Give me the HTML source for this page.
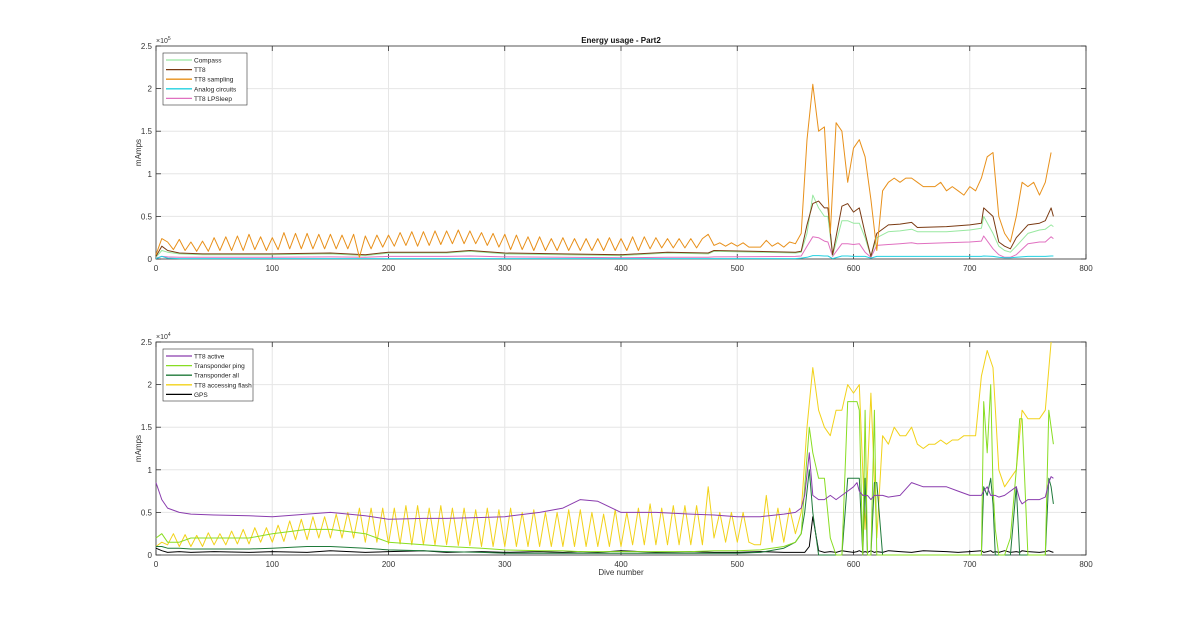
<!DOCTYPE html>
<html><head><meta charset="utf-8"><style>
body{margin:0;background:#fff;}
svg{display:block;font-family:"Liberation Sans",sans-serif;}
</style></head><body>
<svg id="chart" width="1200" height="622"></svg>
<script>
// ---- data ----
const sampStart = 0, sampStep = 5;
const tt8Sampling = [0.5,2.4,2.0,1.1,2.3,1.0,2.0,0.9,2.1,0.9,2.5,
1.0,2.6,1.0,2.7,1.0,2.9,1.1,2.6,1.0,2.5,
1.1,3.1,1.2,3.0,1.2,3.0,1.2,2.9,1.2,2.9,
1.2,2.8,1.2,2.9,0.2,2.7,1.2,2.8,1.4,2.8,
1.5,3.1,1.6,3.2,1.5,3.2,1.6,3.3,1.7,3.3,
1.8,3.4,1.8,3.3,1.8,3.1,1.6,3.0,1.4,2.9,
1.1,2.8,1.1,2.6,1.0,2.6,1.0,2.4,1.0,2.5,
1.0,2.4,1.0,2.4,1.0,2.4,1.0,2.5,1.0,2.4,
1.0,2.6,1.0,2.6,1.2,2.5,1.3,2.4,1.3,2.4,
1.3,2.4,1.3,2.4,2.9,1.6,1.9,1.5,1.9,1.5,
1.9,1.4,1.4,1.4,2.2,1.5,1.9,1.4,2.0,1.8,
3,14,20.5,15,15.5,3,16,15,9,13,
14,12,7,1,8,9,9.5,9,9.5,9.5,
9,8.5,8.5,8.5,9,8,8.5,8,7.5,8.5,
8,9.5,12,12.5,5,3,2,5,9,8.5,
9,7.5,9,12.5];
const topDives = [0,5,10,20,40,60,100,150,180,200,250,270,300,350,400,440,475,480,550,555,560,565,570,575,578,582,590,595,600,605,610,615,620,630,640,650,655,680,700,710,712,720,725,730,735,740,750,760,765,770,772];
const tt8 = [0.3,1.5,1.0,0.7,0.6,0.6,0.6,0.7,0.5,0.8,0.8,1.0,0.7,0.6,0.5,0.8,0.7,1.0,0.8,0.9,4,6.5,6.8,6,6,0.5,6.2,6.5,5.5,6,3,0.3,3,4,4.1,4.3,3.7,3.8,4,4.2,6,5,2,1.5,1.2,2.5,4,4.2,4.5,6,5];
const compass = [0.2,1.0,0.8,0.6,0.5,0.5,0.5,0.6,0.4,0.7,0.7,0.9,0.6,0.5,0.4,0.7,0.6,0.9,0.7,0.8,3,7.5,6,5,5,0.4,4.5,4.5,4.2,4.2,2.5,0.3,2.5,3.2,3.3,3.5,3.2,3.2,3.4,3.6,5,3,1.5,1,0.8,1.5,3,3.4,3.5,4,3.8];
const lpSleep = [0.1,0.3,0.25,0.2,0.2,0.2,0.2,0.25,0.2,0.3,0.3,0.35,0.25,0.2,0.15,0.2,0.2,0.25,0.3,0.35,1.5,2.6,2.5,2.1,2,0.3,1.8,1.8,1.7,1.8,0.8,0.2,1.6,1.7,1.8,1.9,1.8,1.9,2,2.1,2.7,1.2,0.5,0.2,0.2,0.5,1.8,2,2,2.6,2.4];
const analog = [0.05,0.3,0.1,0.05,0.05,0.05,0.05,0.05,0.05,0.05,0.05,0.05,0.05,0.05,0.05,0.05,0.05,0.05,0.05,0.1,0.2,0.4,0.4,0.35,0.35,0.05,0.35,0.35,0.3,0.3,0.3,0.1,0.3,0.3,0.3,0.3,0.3,0.3,0.3,0.3,0.35,0.3,0.2,0.15,0.15,0.2,0.3,0.3,0.3,0.35,0.35];

const flash = [1.0,1.5,1.2,2.5,1.0,2.4,1.0,2.3,1.0,2.6,1.2,
2.5,1.2,2.8,1.3,3.0,1.3,3.2,1.5,3.2,1.5,
3.5,1.6,4.0,1.8,4.2,1.8,4.5,2.0,4.5,2.0,
4.8,2.0,5.0,2.0,5.5,1.5,5.5,1.5,5.5,1.3,
5.5,1.3,5.8,1.2,5.8,1.2,5.5,1.2,5.8,1.2,
5.5,1.1,5.5,1.1,5.3,1.0,5.5,1.0,5.3,1.0,
5.5,1.0,5.0,1.0,5.3,1.0,5.0,1.0,5.0,1.0,
5.3,1.0,5.3,1.0,5.0,1.0,4.8,1.0,5.3,1.0,
5.0,1.2,5.5,1.2,6.0,1.2,5.5,1.2,5.8,1.2,
5.8,1.2,5.8,1.2,8.0,2.0,5.0,1.5,5.0,1.5,
5.0,1.5,1.2,1.2,7.0,1.5,5.5,1.5,5.5,2.5,
5,15,22,17,15,14,17,17,20,19,
20,3,19,2,14,13,15,14,14,15,
13,12.5,13,13,13.5,13,13.5,13.5,14,14,
14,21,24,22,10,8,9,10,17,16,
16,16,17,25];
const botDives = [0,5,10,20,30,50,80,100,130,150,180,200,230,250,280,300,330,350,365,380,400,430,460,480,500,520,540,550,555,558,562,565,570,575,580,585,590,595,600,603,605,608,610,612,615,618,620,625,630,640,650,660,680,690,700,710,712,715,718,720,722,725,730,735,740,743,745,750,760,765,768,770,772];
const tt8Active = [8.5,6.5,5.5,5,4.8,4.7,4.6,4.5,4.8,5,4.6,4.2,4.3,4.3,4.4,4.5,5,5.5,6.5,6.3,5,5,4.8,4.7,4.5,4.5,4.8,5,5.5,7,12,7,6.5,6.5,7,6.5,7,7.5,8,8.5,7.5,7,7,7,6.5,7,7,7,6.8,7,8.5,8,8,7.5,7,7,7.5,8,7,7,7,6.8,7,7.5,8,6.5,6,6.5,6.5,6.8,8.5,9.2,9];
const ping = [2,2.5,1.5,1.5,2,2,2,2.5,3,3,2.5,1.5,1.2,1.0,0.8,0.6,0.5,0.5,0.4,0.4,0.4,0.4,0.4,0.5,0.5,0.6,1,1.5,2.5,8,15,12,9,9,2,0,0,18,18,18,17,0,17,0,0,17,0,0,0,0,0,0,0,0,0,0,18,12,20,8,3,0,0,2,10,16,16,0,0,0,17,15,13];
const transAll = [1,1,0.8,0.8,0.7,0.7,0.7,0.8,1,1,0.8,0.6,0.5,0.4,0.3,0.2,0.2,0.2,0.2,0.2,0.2,0.2,0.2,0.2,0.2,0.3,0.8,1.5,2.5,5,10,5,0,0,0,0,0,9,9,9,9,0,9,0,0,8.5,8.5,0,0,0,0,0,0,0,0,0,8,7,9,6,0,0,0,0,8,0,0,0,0,0,9,8,6];
const gps = [0.8,0.5,0.3,0.4,0.3,0.4,0.3,0.4,0.3,0.5,0.3,0.4,0.5,0.3,0.4,0.3,0.4,0.3,0.4,0.3,0.5,0.3,0.4,0.3,0.3,0.4,0.3,0.3,0.3,0.3,1,4.5,0.5,0.3,0.4,0.3,0.5,0.4,0.3,0.4,0.5,0.3,0.4,0.3,0.5,0.3,0.4,0.3,0.5,0.4,0.3,0.5,0.4,0.3,0.4,0.5,0.3,0.4,0.5,0.3,0.4,0.3,0.5,0.3,0.4,0.3,0.5,0.4,0.3,0.4,0.5,0.4,0.3];
const xTicks = [0,100,200,300,400,500,600,700,800];
const yTickLabels = ["0","0.5","1","1.5","2","2.5"];
const yTickVals = [0,5,10,15,20,25];

// ---- drawing ----
const NS="http://www.w3.org/2000/svg";
const svg=document.getElementById('chart');
function mk(tag,attrs,parent){const e=document.createElementNS(NS,tag);for(const k in attrs)e.setAttribute(k,attrs[k]);(parent||svg).appendChild(e);return e;}
const L=156,R=1086;
const xs=v=>L+(v/800)*(R-L);
function makeAxis(axTop,axBottom,name,expo){
  const g=mk('g',{});
  
  
  const ys=v=>axBottom-(v/25)*(axBottom-axTop);
  xTicks.forEach(t=>{const l=mk('line',{x1:xs(t),x2:xs(t),y1:axTop,y2:axBottom,stroke:'#e6e6e6','stroke-width':1},g);
    });
  yTickVals.forEach(t=>{const l=mk('line',{x1:L,x2:R,y1:ys(t),y2:ys(t),stroke:'#e6e6e6','stroke-width':1},g);
    });
  mk('rect',{x:L,y:axTop,width:R-L,height:axBottom-axTop,fill:'none',stroke:'#333','stroke-width':0.8},g);
  xTicks.forEach(t=>{
    mk('line',{x1:xs(t),x2:xs(t),y1:axBottom,y2:axBottom-5,stroke:'#333','stroke-width':0.8},g);
    mk('line',{x1:xs(t),x2:xs(t),y1:axTop,y2:axTop+5,stroke:'#333','stroke-width':0.8},g);
    const tx=mk('text',{x:xs(t),y:axBottom+12,'font-size':8,'text-anchor':'middle',fill:'#333'},g);tx.textContent=t;
    
  });
  yTickVals.forEach((t,i)=>{
    mk('line',{x1:L,x2:L+5,y1:ys(t),y2:ys(t),stroke:'#333','stroke-width':0.8},g);
    mk('line',{x1:R,x2:R-5,y1:ys(t),y2:ys(t),stroke:'#333','stroke-width':0.8},g);
    const tx=mk('text',{x:L-4,y:ys(t)+3,'font-size':8,'text-anchor':'end',fill:'#333'},g);tx.textContent=yTickLabels[i];
    
  });
  const ex=mk('text',{x:L,y:axTop-3,'font-size':7,fill:'#333'},g);
  ex.textContent='×10';
  const sup=mk('tspan',{dy:-3,'font-size':5},ex);sup.textContent=expo;
  
  const yl=mk('text',{x:0,y:0,'font-size':8,'text-anchor':'middle',fill:'#333',transform:'translate(141,'+((axTop+axBottom)/2)+') rotate(-90)'},g);
  yl.textContent='mAmps';
  return {g:g,ys:ys};
}
function drawLine(ax,xsArr,vals,color,name,w){
  const pts=vals.map((v,i)=>xs(xsArr[i]).toFixed(1)+','+ax.ys(v).toFixed(1)).join(' ');
  const p=mk('polyline',{points:pts,fill:'none',stroke:color,'stroke-width':w||1,'stroke-linejoin':'round'},ax.g);
  
  
}
const stepX=vals=>vals.map((v,i)=>sampStart+i*sampStep);
function legend(ax,x,y,w,entries){
  const lg=mk('g',{},ax.g);
  
  
  mk('rect',{x:x,y:y,width:w,height:entries.length*9.6+4,fill:'#fff',stroke:'#333','stroke-width':0.6},lg);
  entries.forEach((e,i)=>{
    const ey=y+7+i*9.6;
    const en=mk('g',{},lg);
    
    
    mk('line',{x1:x+3,x2:x+29,y1:ey,y2:ey,stroke:e[1],'stroke-width':1.3},en);
    const t=mk('text',{x:x+31,y:ey+2.5,'font-size':6.5,fill:'#222'},en);t.textContent=e[0];
  });
}
const topAx=makeAxis(46,259,'top-axes',5);
drawLine(topAx,topDives,lpSleep,'#e070c0','line-tt8-lpsleep');
drawLine(topAx,topDives,analog,'#22d0e0','line-analog-circuits');
drawLine(topAx,topDives,compass,'#98e8a0','line-compass');
drawLine(topAx,topDives,tt8,'#7a3a12','line-tt8');
drawLine(topAx,stepX(tt8Sampling),tt8Sampling,'#e8901a','line-tt8-sampling');
legend(topAx,163,53,84,[['Compass','#98e8a0'],['TT8','#7a3a12'],['TT8 sampling','#e8901a'],['Analog circuits','#22d0e0'],['TT8 LPSleep','#e070c0']]);
const tt=mk('text',{x:621,y:43,'font-size':8,'font-weight':'bold','text-anchor':'middle',fill:'#111'});
tt.textContent='Energy usage - Part2';



const botAx=makeAxis(342,555,'bottom-axes',4);
drawLine(botAx,botDives,gps,'#000','line-gps');
drawLine(botAx,stepX(flash),flash,'#f2d21a','line-tt8-accessing-flash');
drawLine(botAx,botDives,transAll,'#1f7a3a','line-transponder-all');
drawLine(botAx,botDives,ping,'#88dd22','line-transponder-ping');
drawLine(botAx,botDives,tt8Active,'#8a3cae','line-tt8-active');
legend(botAx,163,349,90,[['TT8 active','#8a3cae'],['Transponder ping','#88dd22'],['Transponder all','#1f7a3a'],['TT8 accessing flash','#f2d21a'],['GPS','#000']]);
const xl=mk('text',{x:621,y:575,'font-size':8,'text-anchor':'middle',fill:'#333'});
xl.textContent='Dive number';


</script>
</body></html>
